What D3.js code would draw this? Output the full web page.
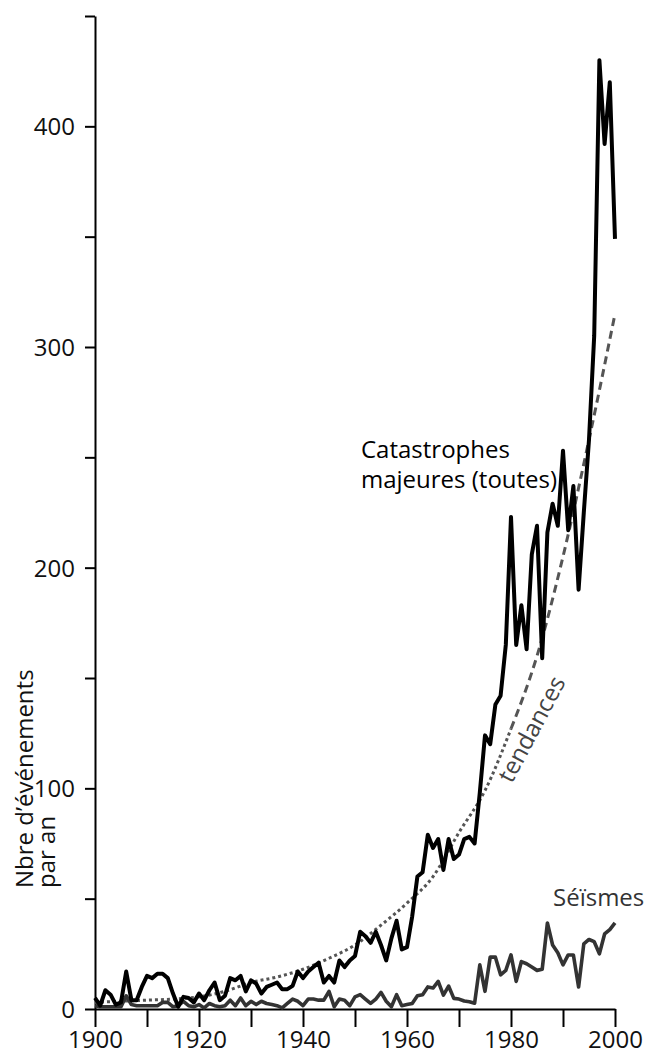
<!DOCTYPE html>
<html>
<head>
<meta charset="utf-8">
<script src="https://cdn.jsdelivr.net/npm/d3@7/dist/d3.min.js"></script>
<style>
  html, body { margin: 0; padding: 0; background: #fff; }
  svg { display: block; }
  text { font-family: "Open Sans", "Noto Sans", sans-serif; }
</style>
</head>
<body>
<svg id="chart" width="645" height="1058"></svg>
<script>
// ---- Data ----
const firstYear = 1900;
const lastYear = 2000;

// Catastrophes majeures (toutes), events per year, 1900..2000
const disasters = [
  5, 1.5, 8.5, 6.5, 2, 3, 17, 4, 4, 10,
  15, 14, 16, 16, 14, 7, 1, 5.5, 5, 3,
  7, 4, 8.5, 12, 4, 6, 14, 13, 15, 8,
  13, 11.5, 7, 10, 11, 12, 9, 9, 10.5, 17,
  14, 17, 19, 21, 12, 15, 12, 22, 19, 22,
  24, 35, 33, 30, 35, 29, 22, 32, 40, 27,
  28, 42, 60, 62, 79, 73, 77, 63, 77, 68,
  70, 77, 78, 75, 98, 124, 120, 138, 142, 165,
  223, 165, 183, 163, 206, 219, 159, 216, 229, 219,
  253, 217, 237, 190, 225, 258, 305, 430, 392, 420,
  349
];

// Séïsmes, events per year, 1900..2000
const earthquakes = [
  1.5, 1, 1, 1, 1, 1, 6, 2, 1.5, 1.5,
  1.5, 1.5, 1.5, 3, 3, 1, 1.5, 3.5, 1.5, 1,
  2, 0.5, 2.5, 1.5, 1, 1.5, 4, 1.5, 5, 1.5,
  3.5, 2, 3.5, 2.5, 2, 1.5, 0.5, 2.5, 4.5, 3.5,
  1.5, 4.5, 4.5, 4, 4, 8, 1, 4.5, 4, 1.5,
  5.5, 6.5, 4.5, 2.5, 4.5, 7.5, 3.5, 1, 6.5, 1.5,
  2, 2.5, 6, 6.5, 10, 9.5, 12.5, 6.3, 10.4, 4.8,
  4.5, 3.6, 3.3, 2.6, 20, 8, 23.5, 23.5, 15.5, 17.5,
  24.5, 12.5, 21.5, 20.5, 19, 17.5, 18, 39, 29, 25.5,
  20, 24.5, 24.5, 10, 29.5, 31.5, 30.5, 25, 34, 36,
  39
];

// Tendance (trend), read every 5 years
const trendYears = [1900, 1905, 1910, 1915, 1920, 1925, 1930, 1935, 1940, 1945,
                    1950, 1955, 1960, 1965, 1970, 1975, 1980, 1985, 1990, 1995, 2000];
const trendValues = [3, 3.5, 4, 4.5, 5.5, 8, 12, 14.5, 18, 23,
                     29, 38, 48, 60, 80, 99, 127, 160, 205, 258, 315];
const trendSplitYear = 1980; // dotted before, dashed after

const yTicks = [0, 50, 100, 150, 200, 250, 300, 350, 400, 450];
const yTickLabels = [0, 100, 200, 300, 400];
const xTicks = [1900, 1910, 1920, 1930, 1940, 1950, 1960, 1970, 1980, 1990, 2000];
const xTickLabels = [1900, 1920, 1940, 1960, 1980, 2000];

const yAxisTitle = ["Nbre d\u2019événements", "par an"];
const labelDisasters = ["Catastrophes", "majeures (toutes)"];
const labelTrend = "tendances";
const labelQuakes = "Séïsmes";

// ---- Drawing ----
const svg = d3.select("#chart");
const x = d3.scaleLinear().domain([firstYear, lastYear]).range([95, 615]);
const y = d3.scaleLinear().domain([0, 450]).range([1009, 16]);

const years = d3.range(firstYear, lastYear + 1);
const seriesD = years.map((yr, i) => ({ year: yr, v: disasters[i] }));
const seriesQ = years.map((yr, i) => ({ year: yr, v: earthquakes[i] }));
const seriesT = trendYears.map((yr, i) => ({ year: yr, v: trendValues[i] }));

// Axes
const yAxis = d3.axisLeft(y).tickValues(yTicks).tickSize(10).tickSizeOuter(0)
  .tickFormat(d => yTickLabels.includes(d) ? d : "");
const gy = svg.append("g").attr("transform", "translate(95,0)").call(yAxis);
gy.select(".domain").attr("stroke", "#000").attr("stroke-width", 2);
gy.selectAll(".tick line").attr("stroke", "#000").attr("stroke-width", 2);
gy.selectAll(".tick text").attr("x", -20).attr("dy", "0.36em")
  .attr("font-size", 24).attr("fill", "#111")
  .attr("font-family", "'Open Sans', sans-serif");

const xAxis = d3.axisBottom(x).tickValues(xTicks).tickSize(18).tickSizeOuter(0)
  .tickFormat(d => xTickLabels.includes(d) ? d : "");
const gx = svg.append("g").attr("transform", "translate(0,1009)").call(xAxis);
gx.select(".domain").attr("stroke", "#000").attr("stroke-width", 2);
gx.selectAll(".tick line").attr("stroke", "#000").attr("stroke-width", 2);
gx.selectAll(".tick text").attr("y", 22).attr("dy", "0.71em")
  .attr("font-size", 24).attr("fill", "#111")
  .attr("font-family", "'Open Sans', sans-serif");

// Lines
const line = d3.line().x(d => x(d.year)).y(d => y(d.v));
const trendLine = d3.line().x(d => x(d.year)).y(d => y(d.v)).curve(d3.curveMonotoneX);

svg.append("path").datum(seriesT.filter(d => d.year <= trendSplitYear))
  .attr("d", trendLine).attr("fill", "none")
  .attr("stroke", "#555").attr("stroke-width", 3).attr("stroke-dasharray", "3,3");
svg.append("path").datum(seriesT.filter(d => d.year >= trendSplitYear))
  .attr("d", trendLine).attr("fill", "none")
  .attr("stroke", "#555").attr("stroke-width", 3).attr("stroke-dasharray", "8,5");

svg.append("path").datum(seriesQ).attr("d", line).attr("fill", "none")
  .attr("stroke", "#333").attr("stroke-width", 3.6)
  .attr("stroke-linejoin", "round");

svg.append("path").datum(seriesD).attr("d", line).attr("fill", "none")
  .attr("stroke", "#000").attr("stroke-width", 4)
  .attr("stroke-linejoin", "round");

// Y axis title (rotated, two lines)
const ty = svg.append("text")
  .attr("transform", "translate(33,888) rotate(-90)")
  .attr("font-size", 24).attr("fill", "#111");
ty.append("tspan").attr("x", 0).attr("y", 0).text(yAxisTitle[0]);
ty.append("tspan").attr("x", 0).attr("y", 22).text(yAxisTitle[1]);

// Annotations
const ta = svg.append("text").attr("font-size", 24).attr("fill", "#000");
ta.append("tspan").attr("x", 361).attr("y", 458).text(labelDisasters[0]);
ta.append("tspan").attr("x", 361).attr("y", 488).text(labelDisasters[1]);

svg.append("text").attr("transform", "translate(539,733) rotate(-62)")
  .attr("text-anchor", "middle").attr("font-size", 24).attr("fill", "#444")
  .text(labelTrend);

svg.append("text").attr("x", 553).attr("y", 906)
  .attr("font-size", 24).attr("fill", "#333").text(labelQuakes);
</script>
</body>
</html>
